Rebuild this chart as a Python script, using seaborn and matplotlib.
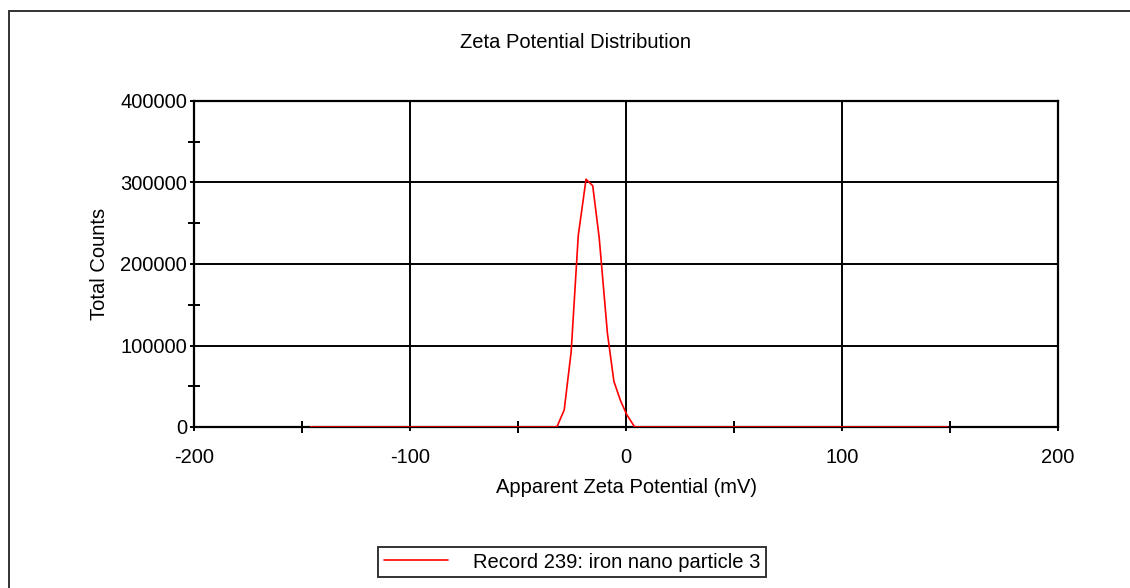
import matplotlib
matplotlib.use("Agg")
import matplotlib.pyplot as plt
from matplotlib.lines import Line2D
from matplotlib.ticker import MultipleLocator, FixedLocator
import seaborn as sns
import pandas as pd

# Zeta potential distribution (mV vs total counts)
zeta_mv = [-146.0, -32.0, -28.6, -25.4, -22.1, -18.5, -15.4, -12.4, -8.6,
           -5.6, -2.5, 0.4, 4.0, 149.0]
total_counts = [0, 0, 21000, 92000, 235000, 304000, 296000, 232000, 115000,
                56000, 32000, 15000, 0, 0]
record_label = "Record 239: iron nano particle 3"

x_ticks = [-200, -100, 0, 100, 200]
y_ticks = [0, 100000, 200000, 300000, 400000]

df = pd.DataFrame({"zeta": zeta_mv, "counts": total_counts, "record": record_label})

sns.set_style("white")
plt.rcParams["font.family"] = ["Liberation Sans", "DejaVu Sans"]
plt.rcParams["text.color"] = "black"
plt.rcParams["axes.labelcolor"] = "black"
plt.rcParams["xtick.color"] = "black"
plt.rcParams["ytick.color"] = "black"

FS = 14.5

fig = plt.figure(figsize=(11.30, 5.88), dpi=100)
ax = fig.add_axes([194 / 1130, 1 - 427 / 588, 864 / 1130, 326 / 588])

sns.lineplot(data=df, x="zeta", y="counts", hue="record", palette=["#ff0000"],
             linewidth=1.2, ax=ax, legend=False, zorder=3)

ax.set_xlim(-200, 200)
ax.set_ylim(0, 400000)
ax.xaxis.set_major_locator(FixedLocator(x_ticks))
ax.yaxis.set_major_locator(FixedLocator(y_ticks))
ax.xaxis.set_minor_locator(MultipleLocator(50))
ax.yaxis.set_minor_locator(MultipleLocator(50000))
ax.set_xticklabels([str(v) for v in x_ticks])
ax.set_yticklabels([str(v) for v in y_ticks])

ax.grid(True, which="major", color="black", linewidth=1.4)
for s in ax.spines.values():
    s.set_color("black")
    s.set_linewidth(1.6)

ax.tick_params(axis="x", which="major", direction="out", length=3, width=1.4,
               labelsize=FS, bottom=True, pad=12)
ax.tick_params(axis="y", which="major", direction="out", length=3, width=1.4,
               labelsize=FS, left=True, pad=2)
ax.tick_params(which="minor", direction="inout", length=8, width=1.4,
               bottom=True, left=True)

ax.set_xlabel("Apparent Zeta Potential (mV)", fontsize=FS, labelpad=8)
ax.set_ylabel("Total Counts", fontsize=FS, labelpad=8)
fig.text(575 / 1130, 1 - 42 / 588, "Zeta Potential Distribution",
         ha="center", va="center", fontsize=FS)

# legend box below the plot
handle = Line2D([], [], color="#ff0000", linewidth=1.2)
leg = fig.legend([handle], [record_label], loc="center",
                 bbox_to_anchor=(572 / 1130, 1 - 562 / 588),
                 frameon=True, fancybox=False, fontsize=FS, handlelength=3.2,
                 handletextpad=1.25, borderpad=0.25, borderaxespad=0)
leg.get_frame().set_edgecolor("black")
leg.get_frame().set_linewidth(1.4)

# outer page frame (top and left edges)
fig.add_artist(Line2D([9 / 1130, 9 / 1130], [0, 1 - 11 / 588],
                      color="#333333", linewidth=1.4, transform=fig.transFigure))
fig.add_artist(Line2D([9 / 1130, 1], [1 - 11 / 588, 1 - 11 / 588],
                      color="#333333", linewidth=1.4, transform=fig.transFigure))

fig.savefig("out.png", dpi=100)
